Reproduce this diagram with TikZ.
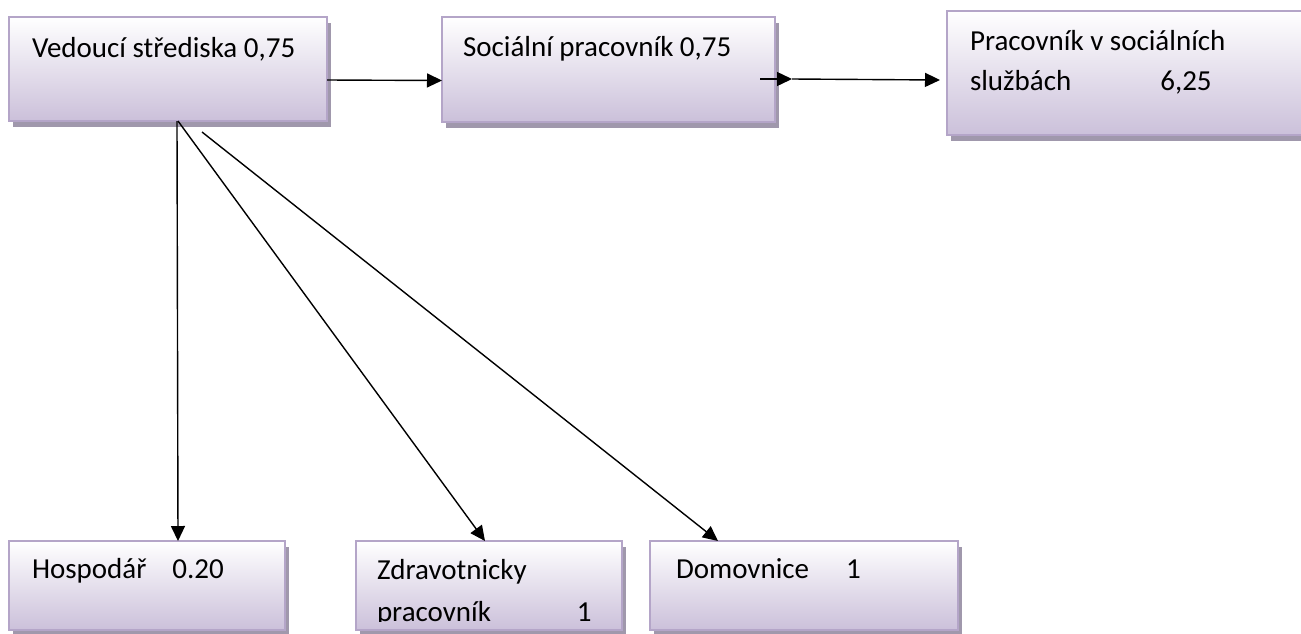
\documentclass[tikz,border=0pt]{standalone}
\usepackage{fontspec}
\setmainfont{Carlito}
\usetikzlibrary{arrows.meta,shadows}
\definecolor{lav}{RGB}{203,192,218}
\definecolor{lavborder}{RGB}{180,165,200}
\definecolor{shad}{RGB}{160,152,172}
\begin{document}
\begin{tikzpicture}[x=1pt,y=-1pt,
  box/.style={rectangle, draw=lavborder, line width=2pt, top color=white, bottom color=lav,
    inner sep=0pt, outer sep=0pt, anchor=north west,
    drop shadow={shadow xshift=4pt, shadow yshift=-6pt, fill=shad, opacity=1}},
  txt/.style={anchor=base west, inner sep=0pt, outer sep=0pt, font=\fontsize{29}{40}\selectfont},
  arr/.style={-{Triangle[length=15pt,width=14pt]}, line width=1.4pt}]
\useasboundingbox (0,0) rectangle (1301,633);
\fill[white] (0,0) rectangle (1301,633);
% boxes
\node[box, minimum width=318pt, minimum height=104pt] (ved) at (9,17) {};
\node[box, minimum width=333pt, minimum height=105pt] (soc) at (442,17) {};
\node[box, minimum width=380pt, minimum height=124pt] (pra) at (947,11) {};
\node[box, minimum width=276pt, minimum height=89pt] (hos) at (9,541) {};
\node[box, minimum width=266pt, minimum height=89pt] (zdr) at (356,541) {};
\node[box, minimum width=308pt, minimum height=89pt] (dom) at (650,541) {};
% texts
\node[txt] (vedt) at (32,57) {Vedoucí střediska 0,75};
\node[txt] (soct) at (463,56) {Sociální pracovník 0,75};
\node[txt] (prat1) at (970,50) {Pracovník v sociálních};
\node[txt] (prat2) at (970,90) {službách\hspace{89pt}6,25};
\node[txt] (host) at (32,578) {Hospodář\hspace{26pt}0.20};
\begin{scope}
  \clip (356,541) rectangle (622,621.5);
  \node[txt] (zdrt1) at (377,579) {Zdravotnicky};
  \node[txt] (zdrt2) at (377,621) {pracovník\hspace{86pt}1};
\end{scope}
\node[txt] (domt) at (676,578) {Domovnice\hspace{37pt}1};
% connectors
\coordinate (m) at (792,79);
\draw[arr] ([yshift=-11pt]ved.east) -- ([yshift=-11pt]soc.west);
\draw[arr] ([xshift=-15pt,yshift=-9.5pt]soc.east) -- (m);
\draw[arr] (m) -- ([xshift=-7pt,yshift=-7pt]pra.west);
\draw[arr] ([xshift=168pt]ved.south west) -- ([xshift=169pt]hos.north west);
\draw[arr] ([xshift=169pt]ved.south west) -- ([xshift=129pt]zdr.north west);
\draw[arr] ([xshift=193pt,yshift=-11pt]ved.south west) -- ([xshift=68pt]dom.north west);
\end{tikzpicture}
\end{document}
